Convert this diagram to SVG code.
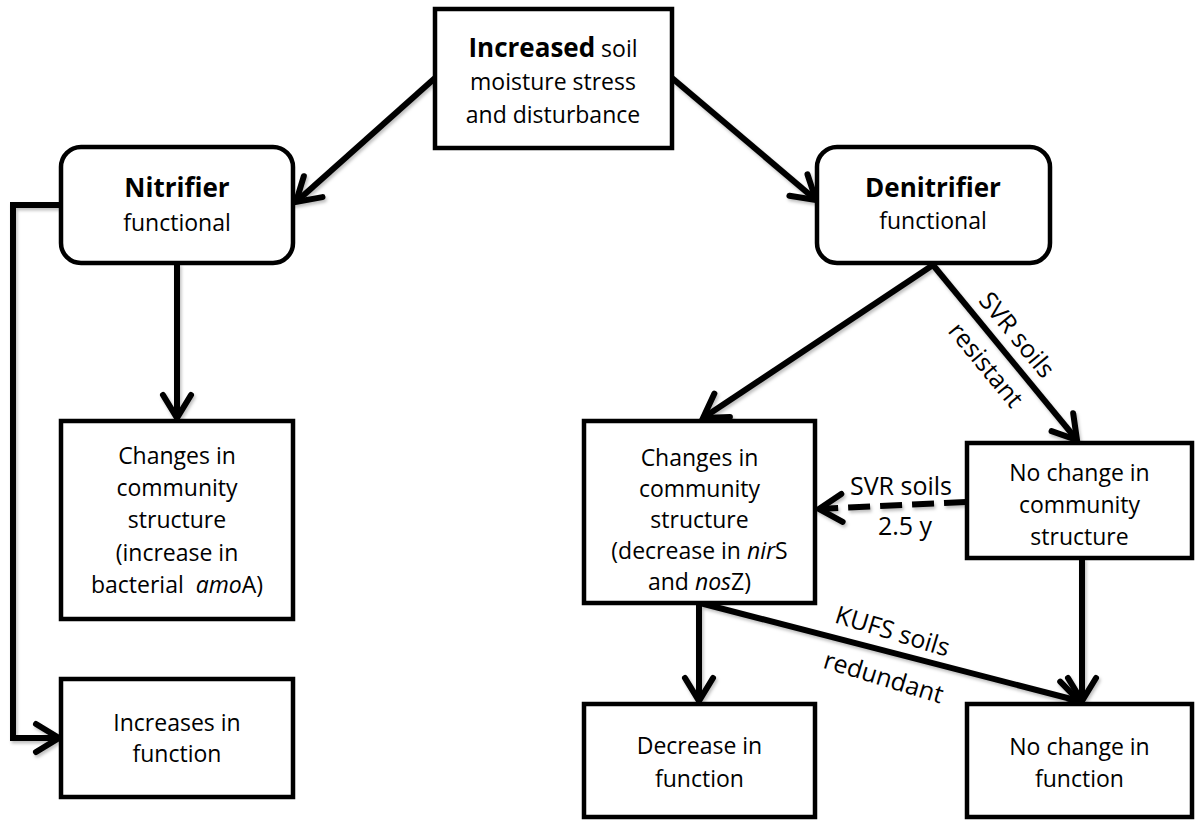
<svg xmlns="http://www.w3.org/2000/svg" width="1196" height="820" viewBox="0 0 1196 820">
<style>
text{font-family:"Open Sans","Liberation Sans",sans-serif;fill:#000;}
.t{font-size:23px;text-anchor:middle;}
.b{font-size:26px;font-weight:bold;}
.lbl{font-size:25px;text-anchor:middle;}
.box{fill:#fff;stroke:#000;stroke-width:4.5;}
.con{fill:none;stroke:#000;stroke-width:6;stroke-linejoin:miter;marker-end:url(#ah);}
.dash{stroke-dasharray:22 10;}
</style>
<defs>
<marker id="ah" markerUnits="userSpaceOnUse" markerWidth="40" markerHeight="40" viewBox="-30 -20 40 40" refX="0" refY="0" orient="auto" overflow="visible">
<path d="M-23,-14 L0,0 L-23,14" fill="none" stroke="#000" stroke-width="6" stroke-linecap="round" stroke-linejoin="miter"/>
</marker>
<filter id="sh" x="-10%" y="-10%" width="120%" height="120%">
<feDropShadow dx="1.5" dy="2.5" stdDeviation="1.5" flood-color="#000" flood-opacity="0.25"/>
</filter>
</defs>
<rect width="1196" height="820" fill="#fff"/>

<g id="connectors" filter="url(#sh)">
<line class="con" x1="435" y1="78" x2="296" y2="202"/>
<line class="con" x1="672" y1="78" x2="816" y2="200"/>
<path class="con" d="M61,205 H13 V738 H59"/>
<line class="con" x1="177" y1="263" x2="177" y2="418"/>
<line class="con" x1="933" y1="265" x2="703" y2="418"/>
<line class="con" x1="933" y1="265" x2="1077" y2="440"/>
<line class="con dash" x1="966" y1="502" x2="819" y2="509"/>
<line class="con" x1="699" y1="603" x2="699" y2="701"/>
<line class="con" x1="700" y1="603" x2="1079" y2="701"/>
<line class="con" x1="1082" y1="558" x2="1082" y2="701"/>
</g>

<g id="edge-labels">
<text class="lbl" x="1018" y="334" dominant-baseline="central" transform="rotate(50.5 1018 334)">SVR soils</text>
<text class="lbl" x="987" y="364" dominant-baseline="central" transform="rotate(50.5 987 364)">resistant</text>
<text class="lbl" x="901" y="495">SVR soils</text>
<text class="lbl" x="905" y="535">2.5 y</text>
<text class="lbl" x="893" y="630" dominant-baseline="central" transform="rotate(17 893 630)">KUFS soils</text>
<text class="lbl" x="884" y="676" dominant-baseline="central" transform="rotate(17 884 676)">redundant</text>
</g>

<g id="top">
<rect class="box" x="435" y="9" width="237" height="139"/>
<text class="t" x="553" y="57"><tspan class="b">Increased</tspan> soil</text>
<text class="t" x="553" y="90">moisture stress</text>
<text class="t" x="553" y="123">and disturbance</text>
</g>

<g id="nitrifier">
<rect class="box" x="61" y="147" width="232" height="116" rx="20" ry="20"/>
<text class="t b" x="177" y="197">Nitrifier</text>
<text class="t" x="177" y="231">functional</text>
</g>

<g id="denitrifier">
<rect class="box" x="817" y="147" width="233" height="116" rx="20" ry="20"/>
<text class="t b" x="933" y="197">Denitrifier</text>
<text class="t" x="933" y="229">functional</text>
</g>

<g id="nit-structure">
<rect class="box" x="61" y="421" width="232" height="198"/>
<text class="t" x="177" y="464">Changes in</text>
<text class="t" x="177" y="496">community</text>
<text class="t" x="177" y="528">structure</text>
<text class="t" x="177" y="561">(increase in</text>
<text class="t" x="177" y="593" xml:space="preserve">bacterial  <tspan font-style="italic">amo</tspan>A)</text>
</g>

<g id="nit-function">
<rect class="box" x="61" y="679" width="232" height="118"/>
<text class="t" x="177" y="731">Increases in</text>
<text class="t" x="177" y="762">function</text>
</g>

<g id="den-structure-change">
<rect class="box" x="584" y="421" width="231" height="182"/>
<text class="t" x="699.5" y="466">Changes in</text>
<text class="t" x="699.5" y="497">community</text>
<text class="t" x="699.5" y="528">structure</text>
<text class="t" x="699.5" y="559">(decrease in <tspan font-style="italic">nir</tspan>S</text>
<text class="t" x="699.5" y="590">and <tspan font-style="italic">nos</tspan>Z)</text>
</g>

<g id="den-structure-nochange">
<rect class="box" x="967" y="443" width="225" height="115"/>
<text class="t" x="1079.5" y="481">No change in</text>
<text class="t" x="1079.5" y="513">community</text>
<text class="t" x="1079.5" y="545">structure</text>
</g>

<g id="den-function-decrease">
<rect class="box" x="584" y="704" width="231" height="113"/>
<text class="t" x="699.5" y="754">Decrease in</text>
<text class="t" x="699.5" y="787">function</text>
</g>

<g id="den-function-nochange">
<rect class="box" x="967" y="704" width="225" height="113"/>
<text class="t" x="1079.5" y="755">No change in</text>
<text class="t" x="1079.5" y="787">function</text>
</g>
</svg>
